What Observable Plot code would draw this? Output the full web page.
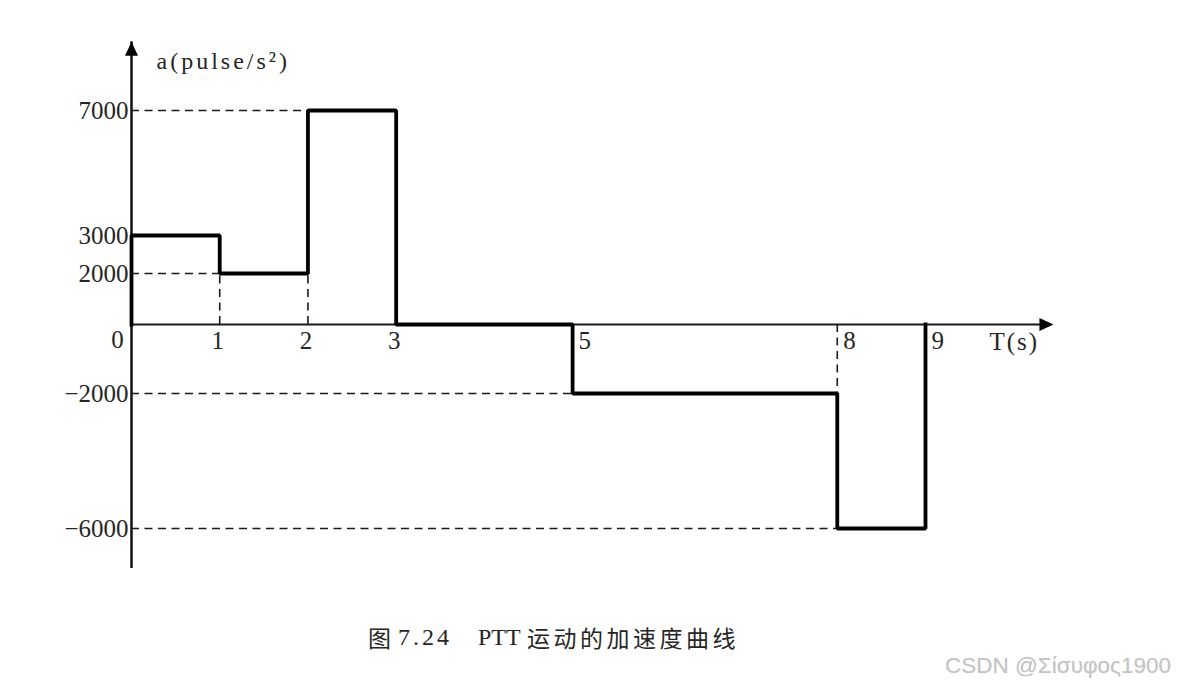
<!DOCTYPE html>
<html>
<head>
<meta charset="utf-8">
<script src="https://cdn.jsdelivr.net/npm/d3@7"></script>
<script src="https://cdn.jsdelivr.net/npm/@observablehq/plot@0.6"></script>
<style>
  html, body { margin: 0; padding: 0; background: #fff; }
  #wrap { position: relative; width: 1177px; height: 687px; overflow: hidden; }
  #chart svg { display: block; }
  .alab text { letter-spacing: 3px; }
  .tlab text { letter-spacing: 2px; }
  .cap { position: absolute; top: 622px; line-height: 30px; color: #262626; white-space: pre; }
  .cap-cjk { font-family: "Noto Sans CJK SC", sans-serif; font-size: 23px; letter-spacing: 3.5px; }
  .cap-lat { font-family: "Liberation Serif", serif; font-size: 24px; letter-spacing: 3px; }
  .wm { position: absolute; left: 945px; top: 654px; line-height: 24px; font-family: "Liberation Sans", Arial, sans-serif;
        font-size: 22.5px; color: #c4c4c4; text-shadow: 0 0 1px #e6e6e6; white-space: pre; }
</style>
</head>
<body>
<div id="wrap">
  <div id="chart"></div>
  <span class="cap cap-cjk" style="left:368px">图</span>
  <span class="cap cap-lat" style="left:398px">7.24</span>
  <span class="cap cap-lat" style="left:478px;letter-spacing:0">PTT</span>
  <span class="cap cap-cjk" style="left:527px">运动的加速度曲线</span>
  <span class="wm">CSDN @Σίσυφος1900</span>
</div>
<script>
// ---- data ----
const T = [0, 0, 1, 2, 3, 5, 8, 9];                    // time (s)
const A = [0, 3000, 2000, 7000, 0, -2000, -6000, 0];   // acceleration (pulse/s²)
const yTicks = [7000, 3000, 2000, -2000, -6000];
const xTicksMid = [1, 2, 3];
const xTicksRight = [5, 8, 9];
const hRefY = [7000, 2000, -2000, -6000];
const hRefXEnd = [2, 1, 5, 8];
const vRefX = [1, 2, 8];
const vRefYEnd = [2000, 2000, -2000];
const yAxisTop = 9200, yAxisBottom = -6950, xAxisEnd = 10.45;
const yLabel = "a(pulse/s²)";
const xLabel = "T(s)";
const yBreaks = [-6000, -2000, 0, 2000, 3000, 7000];

// ---- chart ----
const ink = "#1a1a1a";
const serif = "Liberation Serif, Times New Roman, serif";
const fmt = d => d < 0 ? "\u2212" + Math.abs(d) : String(d);
const arrowHead = {
  draw(ctx) { ctx.moveTo(0, 0); ctx.lineTo(-6.5, 14); ctx.lineTo(6.5, 14); ctx.closePath(); }
};
const idx = T.map((_, i) => i);

const chart = Plot.plot({
  width: 1177,
  height: 600,
  margin: 0,
  style: { background: "#fff", overflow: "visible" },
  x: { type: "linear", domain: [0, 9], range: [131, 925], axis: null },
  y: { type: "linear", domain: yBreaks, range: [528, 393, 324, 273, 235, 110], axis: null },
  marks: [
    // dashed reference lines
    Plot.ruleY(hRefY.map((_, i) => i), {
      y: i => hRefY[i], x1: () => 0, x2: i => hRefXEnd[i],
      stroke: ink, strokeWidth: 1.6, strokeDasharray: "8,5.5"
    }),
    Plot.ruleX(vRefX.map((_, i) => i), {
      x: i => vRefX[i], y1: () => 0, y2: i => vRefYEnd[i],
      stroke: ink, strokeWidth: 1.6, strokeDasharray: "8,5.5"
    }),
    // axes
    Plot.ruleX([0], { x: d => d, y1: () => yAxisBottom, y2: () => yAxisTop, insetTop: 8, stroke: ink, strokeWidth: 2.6 }),
    Plot.ruleY([0], { y: d => d, x1: () => 0, x2: () => xAxisEnd, insetRight: 8, stroke: ink, strokeWidth: 2.2 }),
    Plot.dot([0], { x: () => 0, y: () => yAxisTop, symbol: arrowHead, r: 6, fill: "#000", stroke: "none" }),
    Plot.dot([0], { x: () => xAxisEnd, y: () => 0, symbol: arrowHead, r: 6, rotate: 90, fill: "#000", stroke: "none" }),
    // acceleration step curve
    Plot.line(idx, {
      x: i => T[i], y: i => A[i], curve: "step-after",
      stroke: "#000", strokeWidth: 3.8, strokeLinejoin: "miter", strokeLinecap: "square"
    }),
    // tick labels
    Plot.text(yTicks, {
      x: () => 0, y: d => d, text: fmt, textAnchor: "end", dx: -3,
      fontFamily: serif, fontSize: 25, fill: "#262626"
    }),
    Plot.text([0], {
      x: () => 0, y: () => 0, text: d => String(d), dx: -14, dy: 15,
      fontFamily: serif, fontSize: 25, fill: "#262626"
    }),
    Plot.text(xTicksMid, {
      x: d => d, y: () => 0, text: d => String(d), dx: -2, dy: 16,
      fontFamily: serif, fontSize: 25, fill: "#262626"
    }),
    Plot.text(xTicksRight, {
      x: d => d, y: () => 0, text: d => String(d), textAnchor: "start", dx: 6, dy: 16,
      fontFamily: serif, fontSize: 25, fill: "#262626"
    }),
    // axis titles
    Plot.text([xLabel], {
      x: () => xAxisEnd, y: () => 0, text: d => d, textAnchor: "start", dx: -64, dy: 17,
      fontFamily: serif, fontSize: 25, fill: "#262626", className: "tlab"
    }),
    Plot.text([yLabel], {
      x: () => 0, y: () => yAxisTop, text: d => d, textAnchor: "start", dx: 25, dy: 20,
      fontFamily: serif, fontSize: 24, fill: "#262626", className: "alab"
    })
  ]
});
document.getElementById("chart").appendChild(chart);
</script>
</body>
</html>
